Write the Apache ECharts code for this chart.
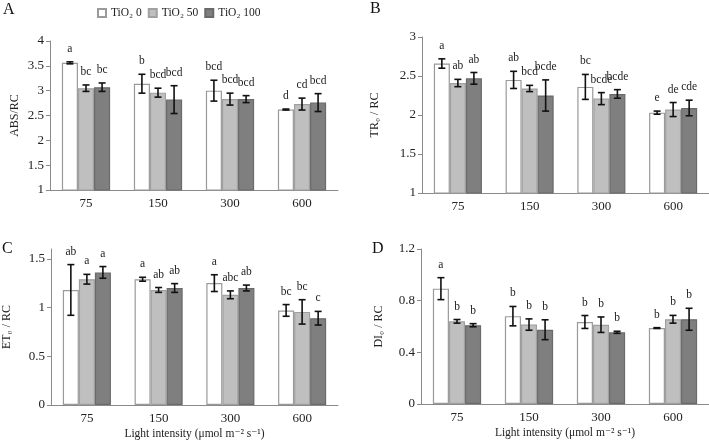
<!DOCTYPE html>
<html><head><meta charset="utf-8">
<script src="https://cdn.jsdelivr.net/npm/echarts@6/dist/echarts.min.js"></script>
<style>html,body{margin:0;padding:0;background:#fff}#c{width:709px;height:441px}</style>
</head><body><div id="c"></div>
<script>
const categories = ['75', '150', '300', '600'];
const seriesNames = ['TiO₂ 0', 'TiO₂ 50', 'TiO₂ 100'];

// Panel A: ABS/RC
const absMean0 = [3.56, 3.14, 3.00, 2.62];
const absErr0 = [0.02, 0.19, 0.21, 0.01];
const absLet0 = ['a', 'b', 'bcd', 'd'];
const absMean50 = [3.05, 2.96, 2.83, 2.73];
const absErr50 = [0.065, 0.09, 0.12, 0.12];
const absLet50 = ['bc', 'bcd', 'bcd', 'cd'];
const absMean100 = [3.07, 2.82, 2.83, 2.76];
const absErr100 = [0.085, 0.28, 0.07, 0.18];
const absLet100 = ['bc', 'bcd', 'bcd', 'bcd'];

// Panel B: TR0/RC
const trMean0 = [2.66, 2.45, 2.36, 2.03];
const trErr0 = [0.06, 0.11, 0.16, 0.02];
const trLet0 = ['a', 'ab', 'bc', 'e'];
const trMean50 = [2.41, 2.34, 2.21, 2.07];
const trErr50 = [0.047, 0.04, 0.077, 0.09];
const trLet50 = ['ab', 'bcd', 'bcde', 'de'];
const trMean100 = [2.47, 2.25, 2.27, 2.09];
const trErr100 = [0.075, 0.2, 0.055, 0.1];
const trLet100 = ['ab', 'bcde', 'bcde', 'cde'];

// Panel C: ET0/RC
const etMean0 = [1.18, 1.29, 1.25, 0.97];
const etErr0 = [0.26, 0.02, 0.086, 0.06];
const etLet0 = ['ab', 'a', 'a', 'bc'];
const etMean50 = [1.29, 1.18, 1.13, 0.955];
const etErr50 = [0.05, 0.025, 0.04, 0.125];
const etLet50 = ['a', 'ab', 'abc', 'bc'];
const etMean100 = [1.36, 1.20, 1.20, 0.89];
const etErr100 = [0.06, 0.045, 0.03, 0.07];
const etLet100 = ['a', 'ab', 'ab', 'c'];

// Panel D: DI0/RC
const diMean0 = [0.893, 0.68, 0.635, 0.588];
const diErr0 = [0.085, 0.075, 0.05, 0.003];
const diLet0 = ['a', 'b', 'b', 'b'];
const diMean50 = [0.64, 0.615, 0.614, 0.656];
const diErr50 = [0.014, 0.044, 0.06, 0.03];
const diLet50 = ['b', 'b', 'b', 'b'];
const diMean100 = [0.61, 0.575, 0.555, 0.656];
const diErr100 = [0.012, 0.077, 0.008, 0.085];
const diLet100 = ['b', 'b', 'b', 'b'];

const FONT = "'Liberation Serif', 'DejaVu Serif', serif";
const AXC = '#8a8a8a';
const fills = ['#ffffff', '#bfbfbf', '#7f7f7f'];
const borders = ['#9a9a9a', '#a0a0a0', '#6a6a6a'];
const GAP = 0.33;

const panels = [
  {means: [absMean0, absMean50, absMean100], errs: [absErr0, absErr50, absErr100], lets: [absLet0, absLet50, absLet100],
   grid: {left: 50, top: 41, width: 288, height: 149}, min: 1, max: 4, interval: 0.5, yname: 'ABS/RC', ygap: 29, xname: ''},
  {means: [trMean0, trMean50, trMean100], errs: [trErr0, trErr50, trErr100], lets: [trLet0, trLet50, trLet100],
   grid: {left: 422, top: 37, width: 287, height: 156}, min: 1, max: 3, interval: 0.5, yname: 'TR₀ / RC', ygap: 41, xname: ''},
  {means: [etMean0, etMean50, etMean100], errs: [etErr0, etErr50, etErr100], lets: [etLet0, etLet50, etLet100],
   grid: {left: 51, top: 249, width: 287, height: 156}, min: 0, max: 1.6, interval: 0.5, yname: 'ET₀ / RC', ygap: 38, xname: 'Light intensity (μmol m⁻² s⁻¹)'},
  {means: [diMean0, diMean50, diMean100], errs: [diErr0, diErr50, diErr100], lets: [diLet0, diLet50, diLet100],
   grid: {left: 421, top: 249, width: 288, height: 155}, min: 0, max: 1.2, interval: 0.4, yname: 'DI₀ / RC', ygap: 36, xname: 'Light intensity (μmol m⁻² s⁻¹)'}
];

function makeErr(k, letters) {
  return function (params, api) {
    const ci = api.value(0), v = api.value(1), e = api.value(2);
    const band = api.size([1, 0])[0];
    const barW = band * (1 - GAP) / 3;
    const c = api.coord([ci, v]);
    const x = c[0] + (k - 1) * barW;
    const top = api.coord([ci, v + e])[1];
    const bot = api.coord([ci, v - e])[1];
    const cap = 3.5;
    const st = {stroke: '#111', lineWidth: 1.6};
    return {
      type: 'group',
      children: [
        {type: 'line', shape: {x1: x, y1: top, x2: x, y2: bot}, style: st},
        {type: 'line', shape: {x1: x - cap, y1: top, x2: x + cap, y2: top}, style: st},
        {type: 'line', shape: {x1: x - cap, y1: bot, x2: x + cap, y2: bot}, style: st},
        {type: 'text', style: {text: letters[params.dataIndex], x: x, y: top - 7, textAlign: 'center', textVerticalAlign: 'bottom',
          font: "11.5px " + FONT, fill: '#222'}}
      ]
    };
  };
}

const grids = [], xAxes = [], yAxes = [], series = [];
panels.forEach((p, gi) => {
  grids.push(p.grid);
  xAxes.push({
    type: 'category', gridIndex: gi, data: categories,
    axisLine: {lineStyle: {color: AXC}}, axisTick: {length: 4, lineStyle: {color: AXC}},
    axisLabel: {color: '#222', fontFamily: FONT, fontSize: 13, margin: 7},
    name: p.xname, nameLocation: 'middle', nameGap: 23,
    nameTextStyle: {color: '#222', fontFamily: FONT, fontSize: 11.5}
  });
  yAxes.push({
    type: 'value', gridIndex: gi, min: p.min, max: p.max, interval: p.interval,
    axisLine: {show: true, lineStyle: {color: AXC}}, axisTick: {show: true, length: 4, lineStyle: {color: AXC}},
    splitLine: {show: false},
    axisLabel: {color: '#222', fontFamily: FONT, fontSize: 13, margin: 6, showMaxLabel: Math.abs(p.max / p.interval - Math.round(p.max / p.interval)) < 1e-9},
    name: p.yname, nameLocation: 'middle', nameGap: p.ygap, nameRotate: 90,
    nameTextStyle: {color: '#222', fontFamily: FONT, fontSize: 12}
  });
  for (let k = 0; k < 3; k++) {
    series.push({
      name: seriesNames[k], type: 'bar', xAxisIndex: gi, yAxisIndex: gi,
      data: p.means[k], barGap: '0%', barCategoryGap: (GAP * 100) + '%',
      itemStyle: {color: fills[k], borderColor: borders[k], borderWidth: 1.2},
      silent: true, animation: false
    });
  }
  for (let k = 0; k < 3; k++) {
    series.push({
      type: 'custom', xAxisIndex: gi, yAxisIndex: gi, clip: false, z: 5, silent: true, animation: false,
      renderItem: makeErr(k, p.lets[k]),
      data: p.means[k].map((m, i) => [i, m, p.errs[k][i]])
    });
  }
});

const letterStyle = {font: "16px " + FONT, fill: '#111'};
const chart = echarts.init(document.getElementById('c'), null, {renderer: 'canvas'});
chart.setOption({
  animation: false,
  backgroundColor: '#fff',
  textStyle: {fontFamily: FONT},
  legend: {
    data: seriesNames, left: 97, top: 7, padding: 0, icon: 'rect', itemWidth: 8, itemHeight: 8, itemGap: 6,
    textStyle: {color: '#222', fontFamily: FONT, fontSize: 11.5}, selectedMode: false
  },
  graphic: [
    {type: 'text', left: 3, top: 2, style: Object.assign({text: 'A'}, letterStyle)},
    {type: 'text', left: 370, top: 1, style: Object.assign({text: 'B'}, letterStyle)},
    {type: 'text', left: 2, top: 241, style: Object.assign({text: 'C'}, letterStyle)},
    {type: 'text', left: 372, top: 241, style: Object.assign({text: 'D'}, letterStyle)}
  ],
  grid: grids, xAxis: xAxes, yAxis: yAxes, series: series
});
</script></body></html>
